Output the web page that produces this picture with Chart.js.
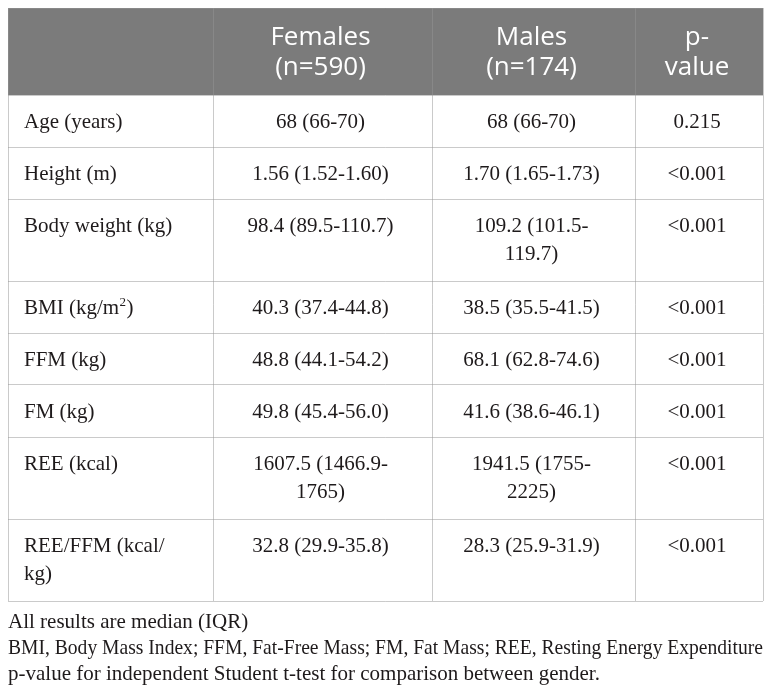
<!DOCTYPE html>
<html>
<head>
<meta charset="utf-8">
<script src="https://cdn.jsdelivr.net/npm/chart.js@4.4.1/dist/chart.umd.min.js"></script>
<style>
  html, body { margin: 0; padding: 0; background: #ffffff; }
  #wrap { width: 772px; height: 694px; position: relative; }
</style>
</head>
<body>
<div id="wrap"><canvas id="c"></canvas></div>
<script>
// ---- table content ----
const headers   = [[''], ['Females', '(n=590)'], ['Males', '(n=174)'], ['p-', 'value']];
const variables = [['Age (years)'], ['Height (m)'], ['Body weight (kg)'], ['BMI (kg/m\u00B2)'],
                   ['FFM (kg)'], ['FM (kg)'], ['REE (kcal)'], ['REE/FFM (kcal/', 'kg)']];
const females   = [['68 (66-70)'], ['1.56 (1.52-1.60)'], ['98.4 (89.5-110.7)'], ['40.3 (37.4-44.8)'],
                   ['48.8 (44.1-54.2)'], ['49.8 (45.4-56.0)'], ['1607.5 (1466.9-', '1765)'], ['32.8 (29.9-35.8)']];
const males     = [['68 (66-70)'], ['1.70 (1.65-1.73)'], ['109.2 (101.5-', '119.7)'], ['38.5 (35.5-41.5)'],
                   ['68.1 (62.8-74.6)'], ['41.6 (38.6-46.1)'], ['1941.5 (1755-', '2225)'], ['28.3 (25.9-31.9)']];
const pValues   = [['0.215'], ['<0.001'], ['<0.001'], ['<0.001'], ['<0.001'], ['<0.001'], ['<0.001'], ['<0.001']];
const footnotes = [
  'All results are median (IQR)',
  'BMI, Body Mass Index; FFM, Fat-Free Mass; FM, Fat Mass; REE, Resting Energy Expenditure',
  'p-value for independent Student t-test for comparison between gender.'
];

// ---- layout (separate from data) ----
const colWidths = [205, 219, 203, 128];
const colEdges = colWidths.reduce((a, w) => { a.push(a[a.length - 1] + w); return a; }, [0]);
const columnsData = [variables, females, males, pValues];
const rowLineCounts = variables.map((_, i) => Math.max(...columnsData.map(c => c[i].length)));
const headerHeight = 27 + 30 * 2;
const rowEdges = [0, headerHeight];
rowLineCounts.forEach(n => rowEdges.push(rowEdges[rowEdges.length - 1] + 22 + 30 * n));
const tableHeight = rowEdges[rowEdges.length - 1];

const bodySize = 21;
const bodyFont = bodySize + 'px "Liberation Serif", "Times New Roman", serif';
const supFont = Math.round(bodySize * 0.62) + 'px "Liberation Serif", "Times New Roman", serif';
const headFont = '26px "Open Sans", sans-serif';
const textColor = '#1e1a1b';

// draws left-aligned text, rendering "²" as a raised small 2
function drawRich(ctx, text, x, y) {
  const parts = text.split('\u00B2');
  let cx = x;
  parts.forEach((p, i) => {
    ctx.font = bodyFont;
    ctx.fillText(p, cx, y);
    cx += ctx.measureText(p).width;
    if (i < parts.length - 1) {
      ctx.font = supFont;
      ctx.fillText('2', cx + 0.5, y - 8);
      cx += ctx.measureText('2').width + 1;
    }
  });
  ctx.font = bodyFont;
}

const tablePlugin = {
  id: 'tablePlugin',
  beforeDraw(chart) {
    const ctx = chart.ctx, x = chart.scales.x, y = chart.scales.y;
    ctx.save();
    ctx.fillStyle = '#ffffff';
    ctx.fillRect(0, 0, chart.width, chart.height);
    ctx.fillStyle = '#7b7b7b';
    const x0 = x.getPixelForValue(colEdges[0]), x1 = x.getPixelForValue(colEdges[colEdges.length - 1]);
    const y0 = y.getPixelForValue(rowEdges[0]), y1 = y.getPixelForValue(rowEdges[1]);
    ctx.fillRect(x0, y0, x1 - x0, y1 - y0);
    ctx.restore();
  },
  afterDraw(chart) {
    const ctx = chart.ctx, x = chart.scales.x, y = chart.scales.y;
    ctx.save();
    // header
    ctx.font = headFont;
    ctx.fillStyle = '#ffffff';
    ctx.textAlign = 'center';
    ctx.textBaseline = 'alphabetic';
    headers.forEach((lines, c) => {
      const cx = (x.getPixelForValue(colEdges[c]) + x.getPixelForValue(colEdges[c + 1])) / 2 - 2;
      lines.forEach((t, i) => {
        if (t) ctx.fillText(t, cx, y.getPixelForValue(rowEdges[0]) + 37 + i * 29.5);
      });
    });
    // body
    ctx.font = bodyFont;
    ctx.fillStyle = textColor;
    columnsData.forEach((col, c) => {
      const left = x.getPixelForValue(colEdges[c]);
      const right = x.getPixelForValue(colEdges[c + 1]);
      col.forEach((lines, r) => {
        const top = y.getPixelForValue(rowEdges[r + 1]);
        lines.forEach((t, i) => {
          const by = top + 33 + i * 28;
          if (c === 0) {
            ctx.textAlign = 'left';
            drawRich(ctx, t, left + 16, by);
          } else {
            ctx.textAlign = 'center';
            ctx.fillText(t, (left + right) / 2 - 2, by);
          }
        });
      });
    });
    // footnotes
    ctx.textAlign = 'left';
    ctx.font = bodyFont;
    const fx = x.getPixelForValue(0);
    const fy = y.getPixelForValue(tableHeight);
    const maxW = x.getPixelForValue(colEdges[colEdges.length - 1]) - fx;
    footnotes.forEach((t, i) => {
      ctx.fillText(t, fx, fy + 27 + i * 26, maxW);
    });
    ctx.restore();
  }
};

const gridColor = 'rgba(150,150,150,0.5)';

new Chart(document.getElementById('c'), {
  type: 'scatter',
  data: { datasets: [{ data: [], pointRadius: 0 }] },
  options: {
    responsive: true,
    maintainAspectRatio: false,
    animation: false,
    events: [],
    layout: { padding: { left: 8, right: 9, top: 8, bottom: 93 } },
    plugins: { legend: { display: false }, tooltip: { enabled: false }, title: { display: false } },
    scales: {
      x: {
        type: 'linear', min: 0, max: colEdges[colEdges.length - 1],
        afterBuildTicks: s => { s.ticks = colEdges.map(v => ({ value: v })); },
        ticks: { display: false },
        grid: { color: gridColor, lineWidth: 1, drawTicks: false },
        border: { display: false }
      },
      y: {
        type: 'linear', min: 0, max: tableHeight, reverse: true,
        afterBuildTicks: s => { s.ticks = rowEdges.map(v => ({ value: v })); },
        ticks: { display: false },
        grid: { color: gridColor, lineWidth: 1, drawTicks: false },
        border: { display: false }
      }
    }
  },
  plugins: [tablePlugin]
});
</script>
</body>
</html>
